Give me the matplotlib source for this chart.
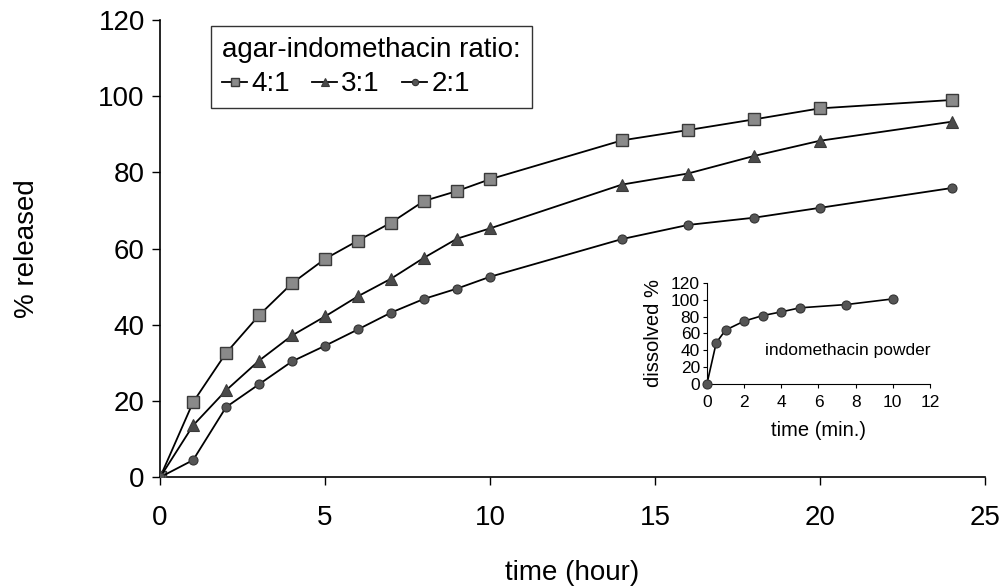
import matplotlib.pyplot as plt
import numpy as np

plt.rcParams['font.family'] = ['Liberation Sans', 'DejaVu Sans']

# release data (hours, % released)
t_hour = [0, 1, 2, 3, 4, 5, 6, 7, 8, 9, 10, 14, 16, 18, 20, 24]
ratio_4_1 = [0, 19.7, 32.6, 42.5, 50.9, 57.3, 62.1, 66.8, 72.5, 75.1, 78.2, 88.4, 91.1, 93.9, 96.8, 99.0]
ratio_3_1 = [0, 13.6, 22.8, 30.6, 37.2, 42.2, 47.5, 52.1, 57.6, 62.6, 65.3, 76.8, 79.7, 84.3, 88.3, 93.3]
ratio_2_1 = [0, 4.5, 18.4, 24.4, 30.4, 34.5, 38.8, 43.2, 46.8, 49.5, 52.6, 62.5, 66.2, 68.1, 70.7, 75.9]

# inset: powder dissolution (minutes, % dissolved)
t_min = [0, 0.5, 1, 2, 3, 4, 5, 7.5, 10]
powder = [0, 48.8, 63.9, 74.6, 81.2, 85.6, 90.4, 94.3, 101]

fig = plt.figure(figsize=(10.07, 5.87), dpi=100)
ax = fig.add_axes([0.159, 0.187, 0.819, 0.779])

ax.plot(t_hour, ratio_4_1, color='black', lw=1.3, marker='s', ms=8.5,
        mfc='#8a8a8a', mec='#3a3a3a', mew=1.0, label='4:1', zorder=3)
ax.plot(t_hour, ratio_3_1, color='black', lw=1.3, marker='^', ms=9,
        mfc='#4a4a4a', mec='#3a3a3a', mew=0.8, label='3:1', zorder=3)
ax.plot(t_hour, ratio_2_1, color='black', lw=1.3, marker='o', ms=6.5,
        mfc='#555555', mec='#333333', mew=0.8, label='2:1', zorder=3)

ax.set_xlim(0, 25)
ax.set_ylim(0, 120)
ax.set_xticks([0, 5, 10, 15, 20, 25])
ax.set_yticks(np.arange(0, 121, 20))
ax.spines['top'].set_visible(False)
ax.spines['right'].set_visible(False)
ax.spines['left'].set_linewidth(1.2)
ax.spines['bottom'].set_linewidth(1.2)
ax.tick_params(direction='out', length=6, width=1, labelsize=20)
ax.tick_params(axis='x', pad=14)
ax.tick_params(axis='y', pad=5)
ax.set_xlabel('time (hour)', fontsize=20, labelpad=21)
ax.set_ylabel('% released', fontsize=20, labelpad=42)

leg = ax.legend(title='agar-indomethacin ratio:', ncol=3, loc='upper left',
                bbox_to_anchor=(0.2095, 0.956), bbox_transform=fig.transFigure,
                fontsize=20, title_fontsize=20, markerscale=0.7,
                handlelength=0.9, handletextpad=0.15, columnspacing=0.8,
                frameon=True, fancybox=False, borderpad=0.4, labelspacing=0.1,
                borderaxespad=0)
leg.get_frame().set_edgecolor('black')
leg.get_frame().set_linewidth(1.0)
leg._legend_box.align = 'left'
leg._legend_box.sep = 6

# inset
ins = fig.add_axes([0.702, 0.346, 0.2215, 0.172])
ins.plot(t_min, powder, color='black', lw=1.2, marker='o', ms=6.5,
         mfc='#555555', mec='#333333', mew=0.8, clip_on=False, zorder=3)
ins.set_xlim(0, 12)
ins.set_ylim(0, 120)
ins.set_xticks(np.arange(0, 13, 2))
ins.set_yticks(np.arange(0, 121, 20))
ins.spines['top'].set_visible(False)
ins.spines['right'].set_visible(False)
ins.spines['left'].set_linewidth(0.8)
ins.spines['bottom'].set_linewidth(0.8)
ins.tick_params(direction='out', length=3, width=0.8, labelsize=12.5, pad=2)
ins.tick_params(axis='x', pad=5)
ins.set_xlabel('time (min.)', fontsize=14.5, labelpad=8)
ins.set_ylabel('dissolved %', fontsize=14.5, labelpad=6)
ins.text(3.1, 40, 'indomethacin powder', fontsize=12.5, va='center')
ins.patch.set_alpha(0)

fig.savefig('out.png', dpi=100)
